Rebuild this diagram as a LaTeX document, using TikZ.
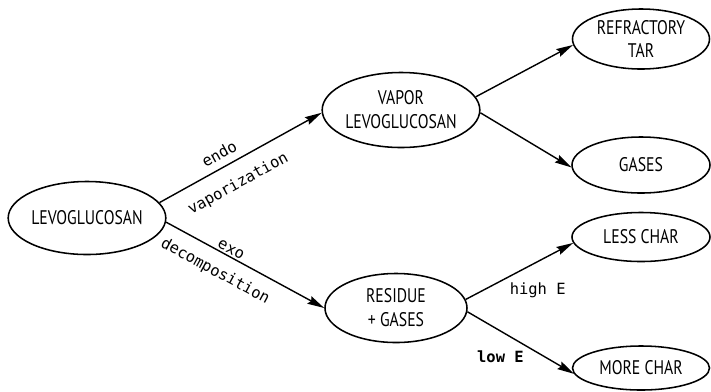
\documentclass[tikz,border=0pt]{standalone}
\usepackage{fontspec}
\usetikzlibrary{shapes.geometric,arrows.meta}
\newfontfamily\plotcaps[FakeStretch=0.8]{PT Sans}
\newfontfamily\plotmono{DejaVu Sans Mono}

\begin{document}
\begin{tikzpicture}[x=0.025cm,y=-0.025cm,
  species/.style={ellipse,draw,line width=1.1pt,inner sep=0pt,align=center,font=\plotcaps\fontsize{14}{17}\selectfont},
  flow/.style={line width=1pt,-{Stealth[length=12pt,width=6pt,inset=1.5pt]}},
  lbl/.style={font=\plotmono\fontsize{11}{12}\selectfont,inner sep=0pt}]
\useasboundingbox (0,0) rectangle (711,391);
\node[species,minimum width=3.875cm,minimum height=1.825cm] (lev) at (87,218) {LEVOGLUCOSAN};
\node[species,minimum width=3.85cm,minimum height=1.875cm] (vapor) at (401,110) {VAPOR\\LEVOGLUCOSAN};
\node[species,minimum width=3.55cm,minimum height=1.725cm] (residue) at (396,308) {RESIDUE\\+ GASES};
\node[species,minimum width=3.425cm,minimum height=1.5cm] (tar) at (641,39) {REFRACTORY\\TAR};
\node[species,minimum width=3.45cm,minimum height=1.4cm] (gases) at (641,165) {GASES};
\node[species,minimum width=3.45cm,minimum height=1.225cm] (less) at (641,237) {LESS CHAR};
\node[species,minimum width=3.425cm,minimum height=1.1cm] (more) at (641,368) {MORE CHAR};
\draw[flow] (lev.12) -- node[lbl,sloped,pos=0.41,yshift=0.35cm] {endo}
  node[lbl,sloped,pos=0.42,yshift=-0.55cm] {vaporization} (vapor.182);
\draw[flow] (lev.-3) -- node[lbl,sloped,pos=0.39,yshift=0.17cm] {exo}
  node[lbl,sloped,pos=0.37,yshift=-0.5cm] {decomposition} (residue.west);
\draw[flow] (vapor.10) -- (tar.185);
\draw[flow] (vapor.-2) -- (gases.182);
\draw[flow] (residue.7) -- node[lbl,pos=0.67,yshift=-0.725cm] {high E} (less.185);
\draw[flow] (residue.-3) -- node[lbl,pos=0.31,yshift=-0.65cm,font=\plotmono\bfseries\fontsize{11}{12}\selectfont] {low E} (more.185);
\end{tikzpicture}
\end{document}
